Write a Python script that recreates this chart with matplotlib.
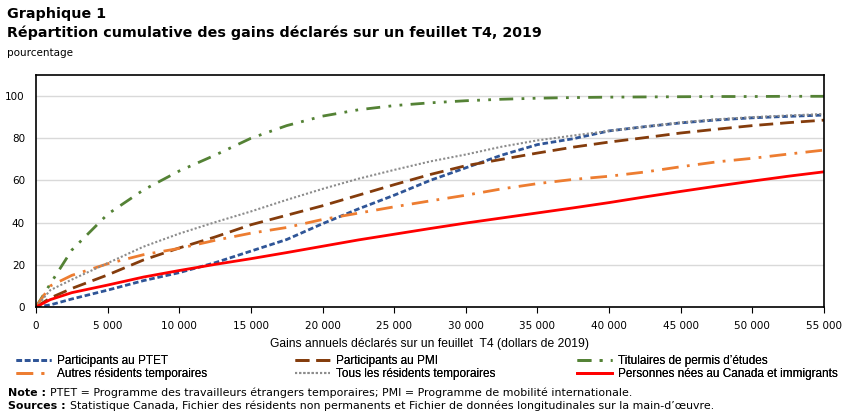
import matplotlib.pyplot as plt
from matplotlib.ticker import FuncFormatter

gains = [0, 1000, 2500, 5000, 7500, 10000, 12500, 15000, 17500, 20000, 22500, 25000,
         27500, 30000, 32500, 35000, 37500, 40000, 42500, 45000, 47500, 50000, 52500, 55000]

ptet = [0, 1, 3.8, 8, 12.5, 16.3, 21, 26.5, 32, 39.5, 46.5, 53,
        60, 66, 72, 77, 79.8, 83.5, 85.5, 87.3, 88.7, 89.7, 90.4, 91]
pmi = [0, 4.3, 8.8, 15.2, 22.3, 28, 33.2, 39, 43.5, 48, 53, 58,
       62.8, 67, 70, 73, 75.8, 78.2, 80.3, 82.5, 84.3, 86, 87.4, 88.6]
etudes = [0, 11, 27, 44, 55.5, 64.5, 72, 80, 86, 90.5, 93.5, 95.5,
          96.8, 97.8, 98.5, 99, 99.3, 99.5, 99.6, 99.7, 99.8, 99.8, 99.9, 99.9]
autres = [0, 10, 15, 20.5, 24.8, 27.8, 31.6, 35, 37.7, 41.5, 44.5, 47.5,
          50.3, 53, 56, 58.5, 60.5, 62, 64, 66.5, 68.8, 70.5, 72.5, 74.4]
tous = [0, 8, 13, 20.8, 28.6, 34.8, 40.2, 45.3, 50.8, 56, 60.8, 65,
        69, 72.3, 76, 79, 81.3, 83.5, 85.5, 87.5, 89, 90, 90.8, 91.5]
canada = [0, 3.5, 6.8, 10.4, 14.2, 17.3, 20.2, 22.9, 25.8, 28.8, 31.8, 34.5,
          37.2, 39.8, 42.2, 44.6, 47, 49.5, 52.2, 54.8, 57.3, 59.7, 62, 64.1]

plt.rcParams['font.family'] = 'DejaVu Sans'
W, H = 851, 416

fig = plt.figure(figsize=(W / 100, H / 100), dpi=100)
ax = fig.add_axes([36/W, 1 - 307/H, 788/W, 232/H])

h_ptet, = ax.plot(gains, ptet, color='#2f5597', lw=2, ls=(0, (2, 1)), label='Participants au PTET')
h_pmi, = ax.plot(gains, pmi, color='#843c0c', lw=2, ls=(0, (5, 2.5)), label='Participants au PMI')
h_etu, = ax.plot(gains, etudes, color='#548235', lw=2, ls=(0, (5, 3, 1, 3, 1, 3)),
                 label="Titulaires de permis d\u2019études")
h_aut, = ax.plot(gains, autres, color='#ed7d31', lw=2, ls=(0, (6, 3, 1, 3)), label='Autres résidents temporaires')
h_tous, = ax.plot(gains, tous, color='#8c8c8c', lw=1.5, ls=(0, (1, 1)), label='Tous les résidents temporaires')
h_can, = ax.plot(gains, canada, color='#ff0000', lw=2, label='Personnes nées au Canada et immigrants')

ax.set_xlim(0, 55000)
ax.set_ylim(0, 110)
ax.set_xticks(range(0, 55001, 5000))
ax.set_yticks(range(0, 101, 20))
ax.xaxis.set_major_formatter(FuncFormatter(lambda v, p: f'{int(v):,}'.replace(',', ' ')))
ax.tick_params(axis='x', length=4, direction='out', labelsize=7.5, pad=6)
ax.tick_params(axis='y', length=0, labelsize=7.5, pad=8)
ax.grid(axis='y', color='#d9d9d9', lw=1)
ax.set_axisbelow(True)
for s in ax.spines.values():
    s.set_color('black')
    s.set_linewidth(1.2)

ax.set_xlabel('Gains annuels déclarés sur un feuillet  T4 (dollars de 2019)', fontsize=8.7,
              family='Liberation Sans', labelpad=5)

fig.text(7/W, 1 - 14/H, 'Graphique 1', fontsize=10.3, fontweight='bold', va='center')
fig.text(7/W, 1 - 33/H, 'Répartition cumulative des gains déclarés sur un feuillet T4, 2019',
         fontsize=10.3, fontweight='bold', va='center')
fig.text(7/W, 1 - 53/H, 'pourcentage', fontsize=7.5, va='center')

cols = [([h_ptet, h_aut], 16), ([h_pmi, h_tous], 295), ([h_etu, h_can], 577)]
for hs, x in cols:
    leg = fig.legend(handles=hs, loc='upper left', bbox_to_anchor=(x/W, 1 - 355/H),
                     frameon=False, prop={'family': 'Liberation Sans', 'size': 8.5},
                     handlelength=3.0, handletextpad=0.5, labelspacing=0.12,
                     borderaxespad=0, borderpad=0)
    fig.add_artist(leg)

t = fig.text(8/W, 1 - 393/H, 'Note :', fontsize=7.9, fontweight='bold', va='center')
ax.annotate('PTET = Programme des travailleurs étrangers temporaires; '
            'PMI = Programme de mobilité internationale.', xy=(1, 0.5), xycoords=t,
            xytext=(3, 0), textcoords='offset points', fontsize=7.9, va='center',
            annotation_clip=False)
t = fig.text(8/W, 1 - 406/H, 'Sources :', fontsize=7.9, fontweight='bold', va='center')
ax.annotate('Statistique Canada, Fichier des résidents non permanents et Fichier de données '
            'longitudinales sur la main-d\u2019œuvre.', xy=(1, 0.5), xycoords=t,
            xytext=(3, 0), textcoords='offset points', fontsize=7.9, va='center',
            annotation_clip=False)

fig.savefig('out.png', dpi=100)
